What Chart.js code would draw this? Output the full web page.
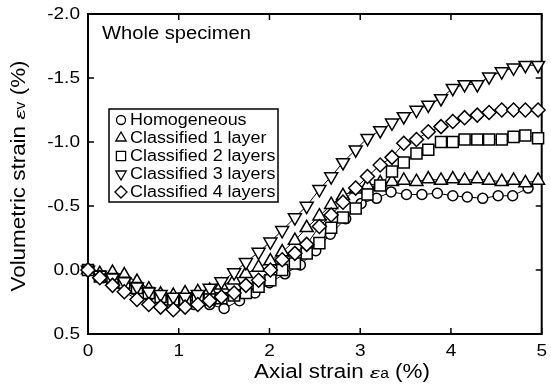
<!DOCTYPE html>
<html>
<head>
<meta charset="utf-8">
<script src="https://cdn.jsdelivr.net/npm/chart.js@4/dist/chart.umd.min.js"></script>
<style>
  html, body { margin: 0; padding: 0; background: #fff; }
  #wrap { width: 551px; height: 388px; }
</style>
</head>
<body>
<div id="wrap"><canvas id="chart" width="551" height="388"></canvas></div>
<script>
// ——— DATA ———
// axial strain (%) sampled for the layered runs
const layeredStrain = [0, 0.13, 0.27, 0.40, 0.54, 0.67, 0.80, 0.94, 1.07, 1.21, 1.34, 1.47, 1.61, 1.74, 1.88,
  2.01, 2.14, 2.28, 2.41, 2.55, 2.68, 2.81, 2.95, 3.08, 3.22, 3.35, 3.48, 3.62, 3.75, 3.89,
  4.02, 4.15, 4.29, 4.42, 4.56, 4.69, 4.82, 4.96];
// axial strain (%) for the homogeneous run
const homoStrain = [0, 0.17, 0.33, 0.50, 0.67, 0.84, 1.00, 1.17, 1.34, 1.50, 1.67, 1.84, 2.00, 2.17, 2.34,
  2.51, 2.67, 2.84, 3.01, 3.18, 3.34, 3.51, 3.68, 3.85, 4.02, 4.18, 4.35, 4.52, 4.68, 4.85];

// volumetric strain (%), compression positive
const homogeneous = [0, 0.06, 0.10, 0.15, 0.20, 0.24, 0.26, 0.27, 0.27, 0.30, 0.24, 0.18, 0.10, 0.03, -0.04,
  -0.15, -0.28, -0.40, -0.52, -0.56, -0.61, -0.59, -0.59, -0.60, -0.58, -0.57, -0.56, -0.58, -0.58, -0.64];
const layers1 = [0, 0.03, 0.02, 0.04, 0.09, 0.15, 0.19, 0.20, 0.18, 0.17, 0.16, 0.12, 0.08, 0.03, -0.02,
  -0.07, -0.14, -0.23, -0.33, -0.42, -0.51, -0.58, -0.63, -0.66, -0.68, -0.69, -0.70, -0.69, -0.71, -0.70,
  -0.71, -0.70, -0.71, -0.70, -0.69, -0.70, -0.68, -0.70];
const layers2 = [0, 0.05, 0.07, 0.10, 0.14, 0.18, 0.21, 0.23, 0.24, 0.23, 0.23, 0.22, 0.20, 0.18, 0.13,
  0.08, 0.00, -0.05, -0.13, -0.21, -0.33, -0.41, -0.48, -0.59, -0.66, -0.77, -0.84, -0.91, -0.94, -1.00,
  -1.00, -1.02, -1.02, -1.02, -1.02, -1.04, -1.05, -1.03];
const layers3 = [0, 0.04, 0.06, 0.09, 0.13, 0.17, 0.19, 0.21, 0.21, 0.19, 0.14, 0.09, 0.02, -0.06, -0.14,
  -0.22, -0.31, -0.41, -0.50, -0.63, -0.73, -0.84, -0.94, -1.03, -1.09, -1.15, -1.20, -1.25, -1.29, -1.34,
  -1.42, -1.45, -1.45, -1.51, -1.55, -1.58, -1.60, -1.60];
const layers4 = [0, 0.06, 0.12, 0.17, 0.23, 0.27, 0.29, 0.31, 0.29, 0.27, 0.24, 0.21, 0.18, 0.12, 0.08,
  0.00, -0.08, -0.13, -0.20, -0.34, -0.43, -0.53, -0.64, -0.73, -0.82, -0.88, -0.99, -1.02, -1.08, -1.12,
  -1.16, -1.19, -1.21, -1.23, -1.25, -1.25, -1.25, -1.25];

const seriesNames = ['Homogeneous', 'Classified 1 layer', 'Classified 2 layers', 'Classified 3 layers', 'Classified 4 layers'];

const xTicks = [0, 1, 2, 3, 4, 5];
const xTickLabels = ['0', '1', '2', '3', '4', '5'];
const yTicks = [-2.0, -1.5, -1.0, -0.5, 0.0, 0.5];
const yTickLabels = ['-2.0', '-1.5', '-1.0', '-0.5', '0.0', '0.5'];

// ——— STYLE ———
const FONT = '"Liberation Sans", Arial, sans-serif';
const INK = '#000';
const WIDE = 1.12;   // text is set a little wider than the plain face

const markers = [
  { style: 'circle',   rotation: 0,   radius: 5,   legendRadius: 4.5 },
  { style: 'triangle', rotation: 0,   radius: 7.5, legendRadius: 6 },
  { style: 'rect',     rotation: 0,   radius: 7.8, legendRadius: 6.5 },
  { style: 'triangle', rotation: 180, radius: 7.5, legendRadius: 6 },
  { style: 'rectRot',  rotation: 0,   radius: 7,   legendRadius: 6 },
];

function pairs(xs, ys) {
  return ys.map((y, i) => ({ x: xs[i], y }));
}

function seriesDataset(i, xs, ys, order) {
  const m = markers[i];
  return {
    label: seriesNames[i],
    data: pairs(xs, ys),
    showLine: true,
    borderColor: INK,
    borderWidth: 1,
    pointStyle: m.style,
    rotation: m.rotation,
    pointRadius: m.radius,
    pointHoverRadius: m.radius,
    pointBackgroundColor: '#fff',
    pointBorderColor: INK,
    pointBorderWidth: 1.5,
    clip: false,
    order,
  };
}

// ——— DRAW HELPERS ———
function drawMarker(ctx, m, x, y, r) {
  ctx.save();
  ctx.beginPath();
  if (m.style === 'circle') {
    ctx.arc(x, y, r, 0, Math.PI * 2);
  } else if (m.style === 'triangle') {
    const s = m.rotation ? -1 : 1;
    ctx.moveTo(x, y - s * r);
    ctx.lineTo(x + r * 0.866, y + s * r / 2);
    ctx.lineTo(x - r * 0.866, y + s * r / 2);
  } else if (m.style === 'rect') {
    const h = r * Math.SQRT1_2;
    ctx.rect(x - h, y - h, 2 * h, 2 * h);
  } else {
    ctx.moveTo(x - r, y); ctx.lineTo(x, y - r); ctx.lineTo(x + r, y); ctx.lineTo(x, y + r);
  }
  ctx.closePath();
  ctx.fillStyle = '#fff';
  ctx.fill();
  ctx.lineWidth = 1.3;
  ctx.strokeStyle = INK;
  ctx.stroke();
  ctx.restore();
}

// single line of text, widened along its run
function wideText(ctx, text, x, y, align, baseline) {
  ctx.save();
  ctx.translate(x, y);
  ctx.scale(WIDE, 1);
  ctx.textAlign = align;
  ctx.textBaseline = baseline;
  ctx.fillText(text, 0, 0);
  ctx.restore();
}

// text made of runs with different fonts, centred on (cx, cy)
function drawRuns(ctx, runs, cx, cy, angle) {
  ctx.save();
  ctx.translate(cx, cy);
  ctx.rotate(angle || 0);
  ctx.scale(WIDE, 1);
  ctx.textBaseline = 'alphabetic';
  ctx.textAlign = 'left';
  let total = 0;
  runs.forEach(r => { ctx.font = r.font; r.w = ctx.measureText(r.text).width * (r.sx || 1); total += r.w; });
  let x = -total / 2;
  ctx.fillStyle = INK;
  runs.forEach(r => {
    ctx.font = r.font;
    ctx.save();
    ctx.translate(x, 7);
    ctx.scale(r.sx || 1, 1);
    ctx.fillText(r.text, 0, 0);
    ctx.restore();
    x += r.w;
  });
  ctx.restore();
}

// ——— FRAME, TICKS, LABELS ———
const framePlugin = {
  id: 'frame',
  beforeDatasetsDraw(chart) {
    const { ctx, chartArea: a, scales: { x, y } } = chart;
    ctx.save();
    ctx.strokeStyle = INK;
    ctx.lineWidth = 2;
    ctx.strokeRect(a.left, a.top, a.right - a.left, a.bottom - a.top);
    ctx.lineWidth = 1.5;
    ctx.beginPath();
    xTicks.forEach(v => {
      const px = x.getPixelForValue(v);
      ctx.moveTo(px, a.bottom); ctx.lineTo(px, a.bottom - 6);
      ctx.moveTo(px, a.top);    ctx.lineTo(px, a.top + 6);
    });
    yTicks.forEach(v => {
      const py = y.getPixelForValue(v);
      ctx.moveTo(a.left, py);  ctx.lineTo(a.left + 6, py);
      ctx.moveTo(a.right, py); ctx.lineTo(a.right - 6, py);
    });
    ctx.stroke();
    ctx.restore();
  },
  afterDraw(chart) {
    const { ctx, chartArea: a, scales: { x, y } } = chart;
    ctx.save();
    ctx.fillStyle = INK;
    ctx.font = '17px ' + FONT;

    // tick labels
    yTicks.forEach((v, i) => wideText(ctx, yTickLabels[i], a.left - 8, y.getPixelForValue(v), 'right', 'middle'));
    xTicks.forEach((v, i) => wideText(ctx, xTickLabels[i], x.getPixelForValue(v), a.bottom + 9, 'center', 'top'));

    // panel caption
    ctx.font = '18px ' + FONT;
    wideText(ctx, 'Whole specimen', a.left + 14, a.top + 20, 'left', 'middle');

    // legend box
    const lx = 109, ly = 109, lw = 169, lh = 93;
    ctx.fillStyle = '#fff';
    ctx.fillRect(lx, ly, lw, lh);
    ctx.strokeStyle = INK;
    ctx.lineWidth = 1.5;
    ctx.strokeRect(lx, ly, lw, lh);
    ctx.font = '16px ' + FONT;
    seriesNames.forEach((name, i) => {
      const ry = ly + 11 + i * 18;
      drawMarker(ctx, markers[i], lx + 12, ry, markers[i].legendRadius);
      ctx.fillStyle = INK;
      wideText(ctx, name, lx + 21, ry + 1, 'left', 'middle');
    });
    ctx.restore();

    // axis titles
    const big = '20px ' + FONT, small = '14px ' + FONT, eps = 'italic 15px ' + FONT;
    drawRuns(ctx, [
      { text: 'Axial strain ', font: big },
      { text: '\u03b5', font: eps, sx: 1.4 },
      { text: 'a', font: small },
      { text: ' (%)', font: big },
    ], 342, 371, 0);
    drawRuns(ctx, [
      { text: 'Volumetric strain ', font: big },
      { text: '\u03b5', font: eps, sx: 1.4 },
      { text: 'v', font: small },
      { text: ' (%)', font: big },
    ], 18, 176, -Math.PI / 2);
  }
};

// ——— CHART ———
new Chart(document.getElementById('chart'), {
  type: 'scatter',
  data: {
    datasets: [
      seriesDataset(0, homoStrain, homogeneous, 4),
      seriesDataset(1, layeredStrain, layers1, 3),
      seriesDataset(2, layeredStrain, layers2, 2),
      seriesDataset(3, layeredStrain, layers3, 1),
      seriesDataset(4, layeredStrain, layers4, 0),
    ]
  },
  options: {
    responsive: false,
    animation: false,
    devicePixelRatio: 1,
    layout: { padding: { left: 88, right: 6, top: 14, bottom: 54 } },
    plugins: { legend: { display: false }, tooltip: { enabled: false } },
    scales: {
      x: { type: 'linear', display: false, min: 0, max: 5 },
      y: { type: 'linear', display: false, min: -2, max: 0.5, reverse: true },
    }
  },
  plugins: [framePlugin]
});
</script>
</body>
</html>
